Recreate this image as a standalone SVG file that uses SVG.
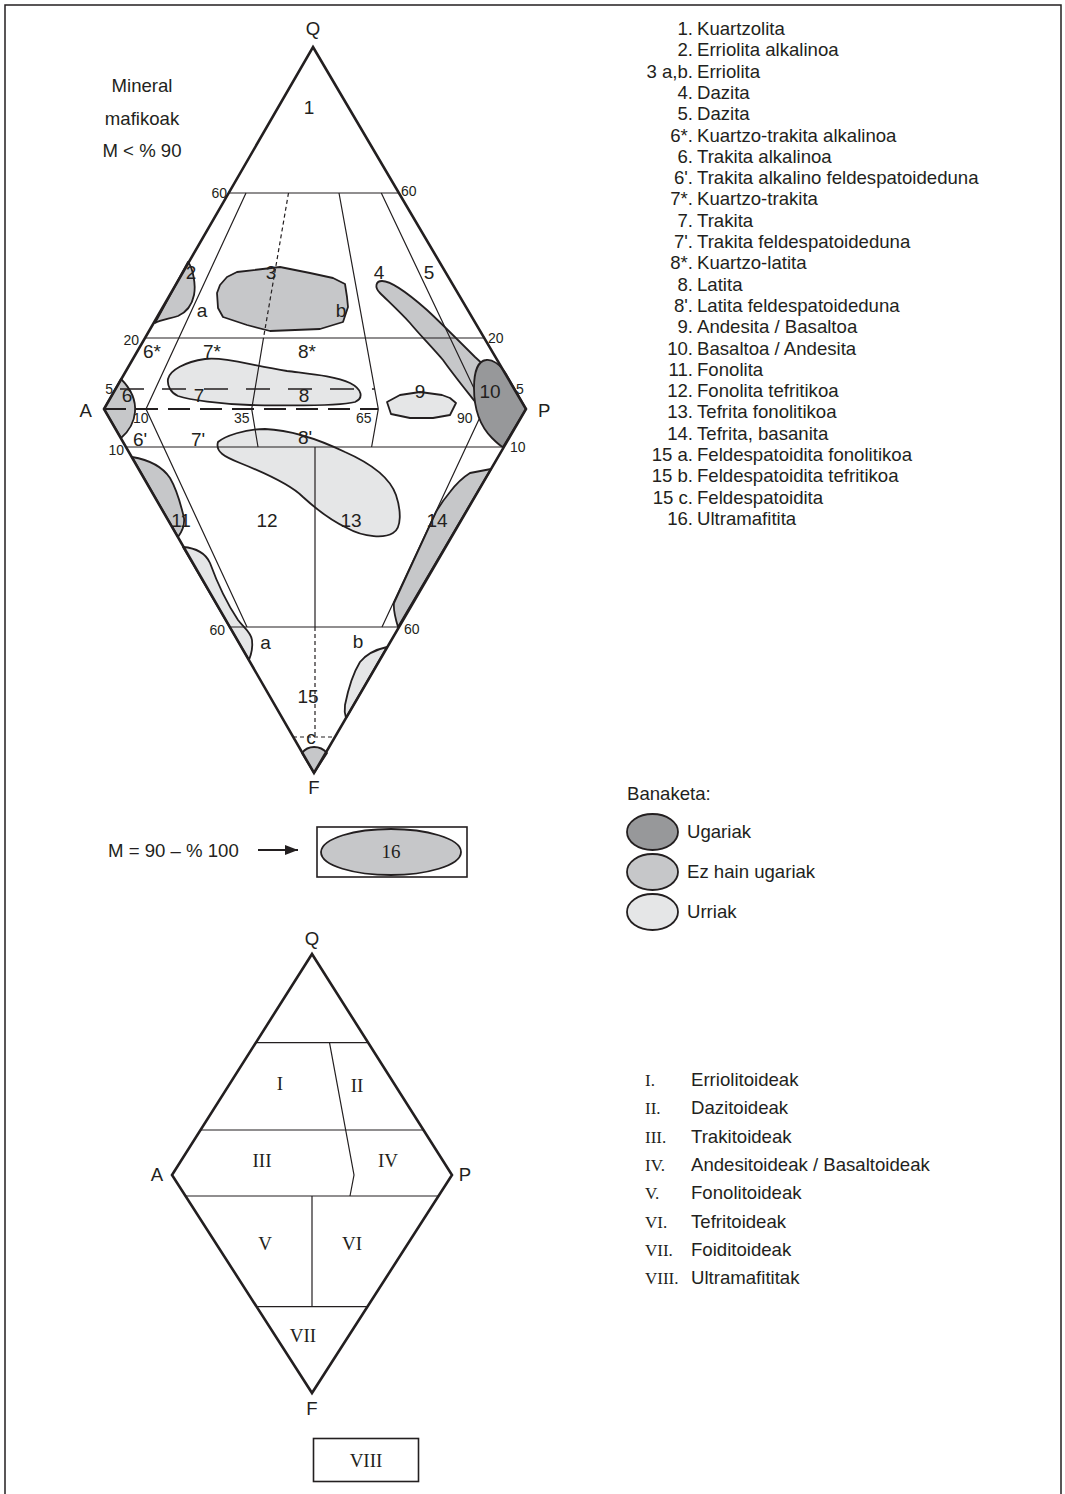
<svg xmlns="http://www.w3.org/2000/svg" width="1065" height="1494" viewBox="0 0 1065 1494">
<style>
text{font-family:"Liberation Sans",Arial,sans-serif;fill:#231f20}
.t18{font-size:18.6px}
.n19{font-size:19px;text-anchor:middle}
.s14{font-size:14px}
.ser{font-family:"Liberation Serif","Times New Roman",serif;font-size:19px;text-anchor:middle}
.ser17{font-family:"Liberation Serif","Times New Roman",serif;font-size:17px}
.mid{text-anchor:middle}
.end{text-anchor:end}
.dk{fill:#97989a;stroke:#231f20;stroke-width:1.8;stroke-linejoin:round}
.md{fill:#c6c7c9;stroke:#231f20;stroke-width:1.8;stroke-linejoin:round}
.lt{fill:#e5e6e7;stroke:#231f20;stroke-width:1.8;stroke-linejoin:round}
.ln{fill:none;stroke:#231f20;stroke-width:1.2}
.dsh{fill:none;stroke:#231f20;stroke-width:1.2;stroke-dasharray:4 3}
.out{fill:none;stroke:#231f20;stroke-width:2.6;stroke-linejoin:miter}
</style>
<defs>
<marker id="ah" markerWidth="13" markerHeight="10" refX="13" refY="5" orient="auto" markerUnits="userSpaceOnUse">
<path d="M0,0 L13,5 L0,10 Z" fill="#231f20"/>
</marker>
</defs>

<path id="border" d="M5,1494 V5 H1061 V1494" fill="none" stroke="#231f20" stroke-width="1.5"/>

<g id="upper-diagram">
<g id="fields">
<path id="f2" class="md" d="M188,262 C193,268 196,285 194,295 C192,305 187,312 178,316 C168,319 160,320 155,323 L188,262 Z"/>
<path id="f3" class="md" d="M237,272 L280,267 L310,273 L333,278 L345,284 L347,297 L348,307 L343,322 L320,329 L270,331 L247,325 L223,317 L218,308 L217,293 L220,285 L227,277 Z"/>
<path id="f4" class="md" d="M382,281 C392,281 410,295 427,310 C440,322 458,340 475,357 L487,368 L483,412 C470,395 455,377 443,360 C430,345 420,335 410,323 C400,312 388,301 380,293 C374,287 376,281 382,281 Z"/>
<path id="f6" class="md" d="M121,379 C130,388 136,400 135,412 C134,424 128,432 121,438 L104,409 Z"/>
<path id="f78" class="lt" d="M168,379 C170,370 185,362 205,359 C225,357 250,365 287,371 C310,374 335,376 350,383 C362,389 364,398 355,402 C340,406 300,406 250,405 C220,404 190,400 178,396 C171,393 167,386 168,379 Z"/>
<path id="f9" class="lt" d="M387,402 L391,414 L410,418 L433,418 L450,415 L456,403 L450,398 L442,395 L420,392 L400,395 Z"/>
<path id="f813" class="lt" d="M218,442 C225,436 245,429 265,429 C290,430 320,440 345,452 C370,463 390,478 396,495 C401,510 402,528 393,533 C385,538 365,538 347,528 C330,520 315,508 303,497 C293,487 270,475 240,463 C225,457 215,452 218,442 Z"/>
<path id="f11" class="md" d="M132,457 C150,460 162,466 170,478 C177,490 181,505 184,518 C185,527 181,533 178,537 Z"/>
<path id="f14" class="md" d="M491,469 L470,473 C462,478 456,484 450,492 C445,498 440,505 436,512 L394,603 C393,610 395,617 398,627 Z"/>
<path id="f15a" class="lt" d="M183,547 C196,548 205,552 210,563 C218,585 228,605 238,620 C244,628 251,632 252,640 C253,648 251,655 249,660 Z"/>
<path id="f15b" class="lt" d="M387,647 C378,649 368,652 360,662 C352,675 348,690 345,705 C344,712 345,715 346,718 Z"/>
<path id="f15c" class="md" d="M302,753 C308,745 320,745 327,753 L314,773 Z"/>
</g>
<g id="connectors">
<line class="ln" x1="229" y1="193" x2="399" y2="193"/>
<line class="ln" x1="145" y1="338" x2="485" y2="338"/>
<line class="ln" x1="126" y1="447" x2="504" y2="447"/>
<line class="ln" x1="230" y1="627" x2="399" y2="627"/>
<line class="dsh" x1="293" y1="737" x2="335" y2="737"/>
<line x1="120" y1="389" x2="375" y2="389" fill="none" stroke="#231f20" stroke-width="1.3" stroke-dasharray="24 18"/>
<line x1="104" y1="409" x2="378" y2="409" fill="none" stroke="#231f20" stroke-width="2" stroke-dasharray="22 10"/>
<polyline class="ln" points="246,193 146,409 247,627"/>
<line class="dsh" x1="288.5" y1="193" x2="263.5" y2="338"/>
<polyline class="ln" points="263.5,338 251.7,409 258,447"/>
<polyline class="ln" points="339,193 378.3,409 371.6,447"/>
<polyline class="ln" points="381.3,193 483.8,409 382,627"/>
<line class="ln" x1="315" y1="447" x2="315" y2="627"/>
<line class="dsh" x1="315" y1="627" x2="315" y2="737"/>
</g>
<path id="f10" class="dk" d="M506,374 C500,364 492,359 486,360 C478,361 474,372 474,388 C474,408 480,426 492,438 C496,442 500,446 503,447 L526,409 Z"/>
<polygon id="upper-outline" class="out" points="313,47 526,409 314,773 104,409"/>
<g id="upper-labels">
<text class="t18 mid" x="313" y="34.5">Q</text>
<text class="t18 end" x="92" y="417">A</text>
<text class="t18" x="538" y="417">P</text>
<text class="t18 mid" x="314" y="794">F</text>
<text class="t18 mid" x="142" y="91.5">Mineral</text>
<text class="t18 mid" x="142" y="124.5">mafikoak</text>
<text class="t18 mid" x="142" y="157">M &lt; % 90</text>
<text class="s14 end" x="227" y="198">60</text>
<text class="s14" x="401" y="196">60</text>
<text class="s14 end" x="139" y="345">20</text>
<text class="s14" x="488" y="343">20</text>
<text class="s14 end" x="113" y="394">5</text>
<text class="s14" x="516" y="394">5</text>
<text class="s14" x="133" y="423">10</text>
<text class="s14" x="234" y="423">35</text>
<text class="s14" x="356" y="423">65</text>
<text class="s14" x="457" y="423">90</text>
<text class="s14 end" x="124" y="455">10</text>
<text class="s14" x="510" y="452">10</text>
<text class="s14 end" x="225" y="635">60</text>
<text class="s14" x="404" y="634">60</text>
<text class="n19" x="309" y="114">1</text>
<text class="n19" x="191" y="279">2</text>
<text class="n19" x="271" y="279">3</text>
<text class="n19" x="379" y="279">4</text>
<text class="n19" x="429" y="279">5</text>
<text class="n19" x="202" y="317">a</text>
<text class="n19" x="341" y="317">b</text>
<text class="n19" x="152" y="358">6*</text>
<text class="n19" x="212" y="358">7*</text>
<text class="n19" x="307" y="358">8*</text>
<text class="n19" x="127" y="402">6</text>
<text class="n19" x="199" y="402">7</text>
<text class="n19" x="304" y="402">8</text>
<text class="n19" x="420" y="398">9</text>
<text class="n19" x="490" y="398">10</text>
<text class="n19" x="140" y="446">6'</text>
<text class="n19" x="198" y="446">7'</text>
<text class="n19" x="305" y="444">8'</text>
<text class="n19" x="181" y="527">11</text>
<text class="n19" x="267" y="527">12</text>
<text class="n19" x="351" y="527">13</text>
<text class="n19" x="437" y="527">14</text>
<text class="n19" x="265.5" y="649">a</text>
<text class="n19" x="358" y="648">b</text>
<text class="n19" x="308" y="703">15</text>
<text class="n19" x="311" y="744">c</text>
</g>
</g>

<g id="legend-rocks" class="t18">
<text class="end" x="693" y="35">1.</text><text x="697" y="35">Kuartzolita</text>
<text class="end" x="693" y="56.3">2.</text><text x="697" y="56.3">Erriolita alkalinoa</text>
<text class="end" x="693" y="77.6">3 a,b.</text><text x="697" y="77.6">Erriolita</text>
<text class="end" x="693" y="98.9">4.</text><text x="697" y="98.9">Dazita</text>
<text class="end" x="693" y="120.2">5.</text><text x="697" y="120.2">Dazita</text>
<text class="end" x="693" y="141.5">6*.</text><text x="697" y="141.5">Kuartzo-trakita alkalinoa</text>
<text class="end" x="693" y="162.8">6.</text><text x="697" y="162.8">Trakita alkalinoa</text>
<text class="end" x="693" y="184.1">6'.</text><text x="697" y="184.1">Trakita alkalino feldespatoideduna</text>
<text class="end" x="693" y="205.4">7*.</text><text x="697" y="205.4">Kuartzo-trakita</text>
<text class="end" x="693" y="226.7">7.</text><text x="697" y="226.7">Trakita</text>
<text class="end" x="693" y="248">7'.</text><text x="697" y="248">Trakita feldespatoideduna</text>
<text class="end" x="693" y="269.3">8*.</text><text x="697" y="269.3">Kuartzo-latita</text>
<text class="end" x="693" y="290.6">8.</text><text x="697" y="290.6">Latita</text>
<text class="end" x="693" y="311.9">8'.</text><text x="697" y="311.9">Latita feldespatoideduna</text>
<text class="end" x="693" y="333.2">9.</text><text x="697" y="333.2">Andesita / Basaltoa</text>
<text class="end" x="693" y="354.5">10.</text><text x="697" y="354.5">Basaltoa / Andesita</text>
<text class="end" x="693" y="375.8">11.</text><text x="697" y="375.8">Fonolita</text>
<text class="end" x="693" y="397.1">12.</text><text x="697" y="397.1">Fonolita tefritikoa</text>
<text class="end" x="693" y="418.4">13.</text><text x="697" y="418.4">Tefrita fonolitikoa</text>
<text class="end" x="693" y="439.7">14.</text><text x="697" y="439.7">Tefrita, basanita</text>
<text class="end" x="693" y="461">15 a.</text><text x="697" y="461">Feldespatoidita fonolitikoa</text>
<text class="end" x="693" y="482.3">15 b.</text><text x="697" y="482.3">Feldespatoidita tefritikoa</text>
<text class="end" x="693" y="503.6">15 c.</text><text x="697" y="503.6">Feldespatoidita</text>
<text class="end" x="693" y="524.9">16.</text><text x="697" y="524.9">Ultramafitita</text>
</g>

<g id="ultramafic">
<text class="t18" x="108" y="857">M = 90 – % 100</text>
<line x1="258" y1="850" x2="298" y2="850" stroke="#231f20" stroke-width="1.8" marker-end="url(#ah)"/>
<rect x="317" y="827" width="150" height="50" fill="none" stroke="#231f20" stroke-width="1.6"/>
<path class="md" d="M321,852 C322,838 355,829 391,829 C425,829 461,838 461,852 C461,866 425,875 391,875 C355,875 321,866 321,852 Z"/>
<text class="ser" x="391" y="858">16</text>
</g>

<g id="legend-abundance" class="t18">
<text x="627" y="800">Banaketa:</text>
<ellipse class="dk" cx="652.5" cy="832" rx="25.5" ry="18"/>
<text x="687" y="838">Ugariak</text>
<ellipse class="md" cx="652.5" cy="872" rx="25.5" ry="18"/>
<text x="687" y="878">Ez hain ugariak</text>
<ellipse class="lt" cx="652.5" cy="912" rx="25.5" ry="18"/>
<text x="687" y="918">Urriak</text>
</g>

<g id="lower-diagram">
<g id="lower-lines">
<line class="ln" x1="256" y1="1042.7" x2="368" y2="1042.7"/>
<line class="ln" x1="200.5" y1="1130" x2="423.5" y2="1130"/>
<line class="ln" x1="185.5" y1="1196" x2="438.5" y2="1196"/>
<line class="ln" x1="256.6" y1="1306.7" x2="367.4" y2="1306.7"/>
<polyline class="ln" points="329.5,1042.7 354,1175 350,1196"/>
<line class="ln" x1="312" y1="1196" x2="312" y2="1306.7"/>
</g>
<polygon id="lower-outline" class="out" points="312,954 452,1175 312,1393 172,1175"/>
<g id="lower-labels">
<text class="t18 mid" x="312" y="945">Q</text>
<text class="t18 mid" x="157" y="1181">A</text>
<text class="t18 mid" x="465" y="1181">P</text>
<text class="t18 mid" x="312" y="1415">F</text>
<text class="ser" x="280" y="1090">I</text>
<text class="ser" x="357" y="1092">II</text>
<text class="ser" x="262" y="1167">III</text>
<text class="ser" x="388" y="1167">IV</text>
<text class="ser" x="265" y="1250">V</text>
<text class="ser" x="352" y="1250">VI</text>
<text class="ser" x="303" y="1342">VII</text>
</g>
<g id="box-VIII">
<rect x="313.5" y="1438.5" width="105" height="43" fill="none" stroke="#231f20" stroke-width="1.6"/>
<text class="ser" x="366" y="1467">VIII</text>
</g>
</g>

<g id="legend-groups">
<text class="ser17" x="645" y="1086">I.</text><text class="t18" x="691" y="1086">Erriolitoideak</text>
<text class="ser17" x="645" y="1114.3">II.</text><text class="t18" x="691" y="1114.3">Dazitoideak</text>
<text class="ser17" x="645" y="1142.6">III.</text><text class="t18" x="691" y="1142.6">Trakitoideak</text>
<text class="ser17" x="645" y="1170.9">IV.</text><text class="t18" x="691" y="1170.9">Andesitoideak / Basaltoideak</text>
<text class="ser17" x="645" y="1199.2">V.</text><text class="t18" x="691" y="1199.2">Fonolitoideak</text>
<text class="ser17" x="645" y="1227.5">VI.</text><text class="t18" x="691" y="1227.5">Tefritoideak</text>
<text class="ser17" x="645" y="1255.8">VII.</text><text class="t18" x="691" y="1255.8">Foiditoideak</text>
<text class="ser17" x="645" y="1284.1">VIII.</text><text class="t18" x="691" y="1284.1">Ultramafititak</text>
</g>
</svg>
